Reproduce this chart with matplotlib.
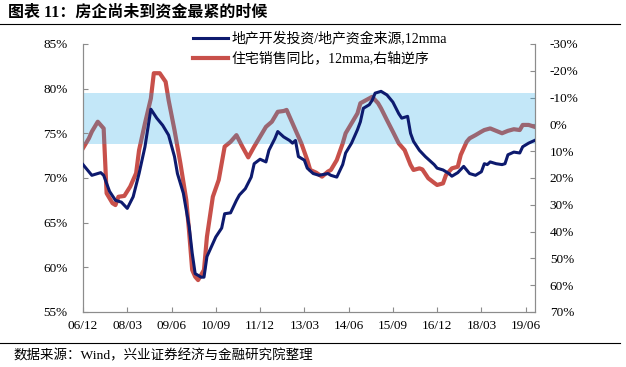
import matplotlib
matplotlib.use("Agg")
import matplotlib.pyplot as plt
from matplotlib.ticker import FuncFormatter, MultipleLocator

plt.rcParams["font.family"] = ["Liberation Serif", "Noto Sans CJK SC"]

# months counted from 2006-12
BLUE_M = [0, 3, 6, 7, 9, 11, 13, 15, 17, 19, 21, 23, 25, 27, 29, 31, 32, 34, 36, 37,
          38, 40, 41, 42, 45, 47, 48, 50, 52, 53, 55, 57, 58, 60, 62, 63, 65, 66, 68, 70,
          71, 72, 73, 75, 76, 78, 80, 83, 84, 86, 88, 89, 91, 93, 94, 95, 97, 98, 99, 101,
          103, 105, 107, 108, 110, 111, 112, 114, 116, 118, 119, 120, 122, 124, 125, 127,
          129, 131, 133, 135, 136, 137, 138, 140, 142, 143, 144, 146, 148, 149, 151, 153]
BLUE_V = [71.5, 70.3, 70.6, 70.3, 68.5, 67.5, 67.3, 66.6, 67.9, 70.5, 73.5, 77.7, 76.7,
          75.9, 74.8, 72.4, 70.5, 68.3, 64.5, 61.6, 59.3, 58.9, 58.9, 61.2, 63.4, 64.4,
          66.0, 66.1, 67.5, 68.1, 68.8, 70.1, 71.6, 72.1, 71.8, 73.1, 74.4, 75.2, 74.6,
          74.2, 73.9, 74.2, 72.4, 72.0, 71.1, 70.5, 70.3, 70.5, 70.3, 70.1, 71.5, 72.8,
          73.9, 75.4, 76.3, 77.8, 78.2, 78.7, 79.5, 79.7, 79.3, 78.5, 77.2, 76.7, 76.9,
          75.0, 74.1, 73.1, 72.4, 71.8, 71.5, 71.1, 70.9, 70.5, 70.2, 70.6, 71.3, 70.5,
          70.3, 70.7, 71.6, 71.5, 71.8, 71.6, 71.5, 71.6, 72.6, 72.9, 72.8, 73.5, 73.9, 74.2]

RED_M = [0, 2, 3, 5, 7, 8, 10, 11, 12, 14, 16, 18, 19, 21, 23, 24, 26, 28, 29, 31, 33,
         35, 36, 37, 38, 39, 41, 42, 44, 46, 48, 50, 52, 54, 56, 58, 60, 62, 64, 66, 68,
         69, 71, 72, 74, 76, 77, 79, 81, 83, 84, 86, 88, 89, 91, 93, 94, 96, 98, 100, 101,
         103, 105, 107, 109, 111, 112, 114, 115, 117, 119, 120, 122, 123, 125, 127, 128,
         130, 131, 133, 135, 136, 138, 140, 142, 144, 146, 148, 149, 151, 153]
RED_V = [8.9, 5.2, 2.7, -1.0, 1.5, 25.7, 29.4, 30.1, 27.0, 26.7, 23.2, 18.2, 9.6, -0.4,
         -9.7, -19.1, -19.1, -15.9, -9.1, 2.1, 14.5, 28.2, 40.6, 54.3, 56.8, 58.1, 54.3,
         41.9, 27.0, 20.7, 8.3, 6.5, 4.0, 8.3, 12.3, 8.3, 4.6, 0.9, -1.0, -4.7, -5.0, -5.4,
         -0.4, 2.1, 7.1, 13.3, 17.0, 18.0, 19.5, 17.6, 17.0, 13.3, 7.1, 3.3, -0.4, -4.1,
         -7.9, -9.1, -10.3, -7.9, -6.0, -1.6, 2.7, 7.1, 9.6, 15.1, 17.0, 16.4, 16.8, 20.1,
         21.8, 22.6, 22.0, 18.9, 16.4, 15.8, 11.4, 6.5, 5.2, 4.0, 2.7, 2.1, 1.5, 2.4, 3.3,
         2.4, 1.8, 2.1, 0.2, 0.2, 0.9]

TICK_M = [0, 15, 30, 45, 60, 75, 90, 105, 120, 135, 150]
TICK_LABELS = ["06/12", "08/03", "09/06", "10/09", "11/12", "13/03",
               "14/06", "15/09", "16/12", "18/03", "19/06"]
BAND = (73.8, 79.5)

BLUE_LABEL = "地产开发投资/地产资金来源,12mma"
RED_LABEL = "住宅销售同比，12mma,右轴逆序"
TITLE = "图表 11：房企尚未到资金最紧的时候"
SOURCE = "数据来源：Wind，兴业证券经济与金融研究院整理"

BLUE = "#0d1a6e"
RED = "#c8504a"
GREY = "#8c8c8c"

fig = plt.figure(figsize=(6.26, 3.67), dpi=100)
ax = fig.add_axes([83 / 626, 1 - 312 / 367, (534.5 - 83) / 626, 268 / 367])
ax2 = ax.twinx()
# blue axis on top so the band sits between the red and blue lines
ax.set_zorder(ax2.get_zorder() + 1)
ax.patch.set_visible(False)

red_line, = ax2.plot(RED_M, RED_V, color=RED, lw=3.0, solid_joinstyle="round")
ax.axhspan(*BAND, color="#18a6e6", alpha=0.26, lw=0, zorder=1)
blue_line, = ax.plot(BLUE_M, BLUE_V, color=BLUE, lw=2.2, zorder=3)

ax.set_xlim(0, 153)
ax.set_ylim(55, 85)
ax2.set_ylim(70, -30)
ax.yaxis.set_major_locator(MultipleLocator(5))
ax2.yaxis.set_major_locator(MultipleLocator(10))
ax.yaxis.set_major_formatter(FuncFormatter(lambda v, p: f"{v:.0f}%"))
ax2.yaxis.set_major_formatter(FuncFormatter(lambda v, p: f"{v:.0f}%"))
ax.set_xticks(TICK_M)
ax.set_xticklabels(TICK_LABELS)

for a in (ax, ax2):
    for side in ("left", "right", "bottom"):
        a.spines[side].set_color(GREY)
    a.spines["top"].set_visible(False)
    a.tick_params(direction="in", length=3.5, color=GREY, labelsize=9.5, labelcolor="black")
ax.tick_params(axis="y", pad=11)
ax2.tick_params(axis="y", pad=11)
ax.tick_params(axis="x", pad=6)

ax.legend([blue_line, red_line], [BLUE_LABEL, RED_LABEL], loc="upper left",
          bbox_to_anchor=(193 / 626, 1 - 32 / 367), bbox_transform=fig.transFigure,
          frameon=False, fontsize=10, handlelength=2.5, handletextpad=0.3,
          labelspacing=0.4, borderpad=0, borderaxespad=0)

fig.text(8 / 626, 1 - 12 / 367, TITLE, fontsize=11.5, fontweight="bold", va="center", ha="left")
fig.add_artist(plt.Line2D([0, 0.99], [1 - 24 / 367, 1 - 24 / 367], color="black", lw=0.8))
fig.add_artist(plt.Line2D([0, 0.99], [1 - 343 / 367, 1 - 343 / 367], color="black", lw=0.8))
fig.text(14 / 626, 1 - 356 / 367, SOURCE, fontsize=9.7, va="center", ha="left")

fig.savefig("out.png", dpi=100)
